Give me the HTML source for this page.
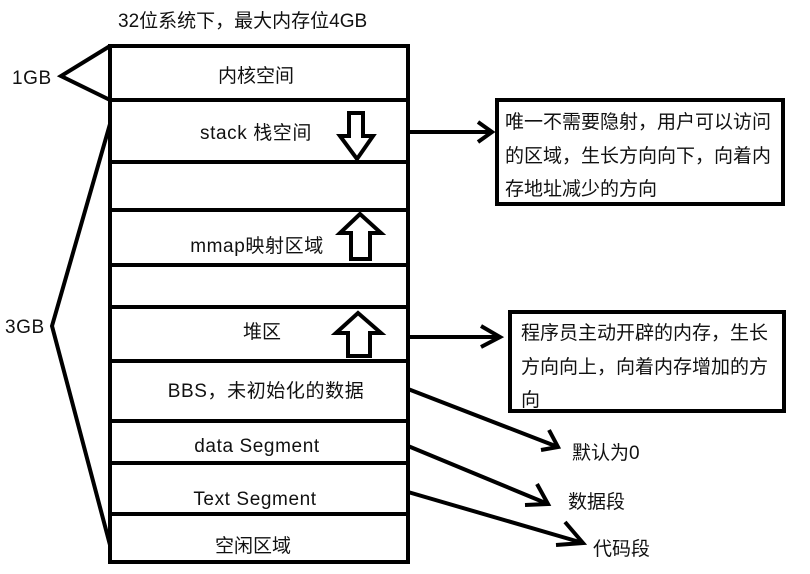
<!DOCTYPE html>
<html><head><meta charset="utf-8"><style>
html,body{margin:0;padding:0;background:#fff;}
svg{display:block;}
text{font-family:"Liberation Sans","Noto Sans CJK SC",sans-serif;font-size:19px;fill:#111;}
.l{letter-spacing:0.6px;}
</style></head><body>
<svg width="810" height="574" viewBox="0 0 810 574" xmlns="http://www.w3.org/2000/svg">
<text x="118" y="27">32位系统下，最大内存位4GB</text>
<g stroke="#000" stroke-width="4" fill="none">
<rect x="110" y="46" width="298" height="516"/>
<line x1="110" y1="100" x2="410" y2="100"/>
<line x1="110" y1="162" x2="410" y2="162"/>
<line x1="110" y1="210" x2="410" y2="210"/>
<line x1="110" y1="265" x2="410" y2="265"/>
<line x1="110" y1="307" x2="410" y2="307"/>
<line x1="110" y1="361" x2="410" y2="361"/>
<line x1="110" y1="421" x2="410" y2="421"/>
<line x1="110" y1="463" x2="410" y2="463"/>
<line x1="110" y1="514" x2="410" y2="514"/>
<polyline points="110,46 61,76 110,100"/>
<polyline points="110,124 52,326 110,545"/>
<polygon points="349,113 363,113 363,136 373,136 357,159 340,136 349,136"/>
<polygon points="360,214 381,233 370,233 370,259 351,259 351,233 340,233"/>
<polygon points="358,313 381,333 370,333 370,356 348,356 348,333 336,333"/>
<rect x="497" y="100" width="286" height="104"/>
<rect x="510" y="312" width="274" height="99"/>
<line x1="408" y1="132" x2="490" y2="132"/>
<polyline points="478,122 492,132 478,142"/>
<line x1="408" y1="337" x2="500" y2="337"/>
<polyline points="481,326 500,337 481,347"/>
<line x1="408" y1="389" x2="558" y2="447"/>
<polyline points="549,430 558,447 541,450"/>
<line x1="408" y1="446" x2="548" y2="504"/>
<polyline points="537,484 548,504 525,505"/>
<line x1="408" y1="492" x2="583" y2="543"/>
<polyline points="565,522 583,543 556,545"/>
</g>
<text x="12" y="84" class="l">1GB</text>
<text x="5" y="333" class="l">3GB</text>
<text x="256" y="82" text-anchor="middle">内核空间</text>
<text x="256" y="139" text-anchor="middle" class="l">stack 栈空间</text>
<text x="257" y="252" text-anchor="middle" class="l">mmap映射区域</text>
<text x="262" y="338" text-anchor="middle">堆区</text>
<text x="266" y="397" text-anchor="middle" class="l">BBS，未初始化的数据</text>
<text x="257" y="452" text-anchor="middle" class="l">data Segment</text>
<text x="255" y="505" text-anchor="middle" class="l">Text Segment</text>
<text x="253" y="552" text-anchor="middle">空闲区域</text>
<text x="505" y="128">唯一不需要隐射，用户可以访问</text>
<text x="505" y="162">的区域，生长方向向下，向着内</text>
<text x="505" y="195">存地址减少的方向</text>
<text x="521" y="339">程序员主动开辟的内存，生长</text>
<text x="521" y="373">方向向上，向着内存增加的方</text>
<text x="521" y="406">向</text>
<text x="572" y="459">默认为0</text>
<text x="568" y="508">数据段</text>
<text x="593" y="555">代码段</text>
</svg>
</body></html>
